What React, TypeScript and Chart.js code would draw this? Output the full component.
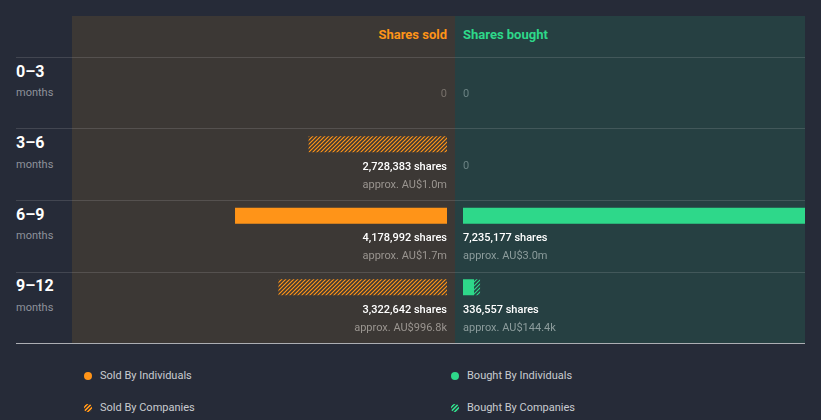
import React, { useEffect, useRef } from 'react';
import { Chart, registerables } from 'chart.js';

Chart.register(...registerables);

// ---- data ----
const periods = ['0–3', '3–6', '6–9', '9–12'];
const periodUnit = 'months';
const soldByIndividuals = [0, 0, 4178992, 0];
const soldByCompanies = [0, 2728383, 0, 3322642];
const boughtByIndividuals = [0, 0, 7235177, 218000];
const boughtByCompanies = [0, 0, 0, 118557];
const soldApproxValue = ['', 'AU$1.0m', 'AU$1.7m', 'AU$996.8k'];
const boughtApproxValue = ['', '', 'AU$3.0m', 'AU$144.4k'];
const legendSold = ['Sold By Individuals', 'Sold By Companies'];
const legendBought = ['Bought By Individuals', 'Bought By Companies'];

// ---- styles ----
const BG = '#262b38';
const SOLD_BG = '#3c3835';
const BOUGHT_BG = '#264042';
const ORANGE = '#ff9418';
const GREEN = '#2ed88a';
const FONT = 'Roboto, "Noto Sans", sans-serif';

const soldTotals = soldByIndividuals.map((v, i) => v + soldByCompanies[i]);
const boughtTotals = boughtByIndividuals.map((v, i) => v + boughtByCompanies[i]);
const maxTotal = Math.max(...soldTotals, ...boughtTotals);

function makeHatch(color: string): CanvasPattern | string {
  const c = document.createElement('canvas');
  c.width = 4;
  c.height = 4;
  const g = c.getContext('2d');
  if (!g) return color;
  g.strokeStyle = color;
  g.lineWidth = 1.2;
  g.beginPath();
  g.moveTo(0, 4);
  g.lineTo(4, 0);
  g.moveTo(-1, 1);
  g.lineTo(1, -1);
  g.moveTo(3, 5);
  g.lineTo(5, 3);
  g.stroke();
  const p = g.createPattern(c, 'repeat');
  return p || color;
}

type PanelProps = {
  individuals: number[];
  companies: number[];
  totals: number[];
  approx: string[];
  color: string;
  reverse: boolean;
  zeroColor: string;
  subColor: string;
};

function Panel({ individuals, companies, totals, approx, color, reverse, zeroColor, subColor }: PanelProps) {
  const ref = useRef<HTMLCanvasElement | null>(null);
  useEffect(() => {
    if (!ref.current) return;
    const align: CanvasTextAlign = reverse ? 'right' : 'left';
    const labelPlugin = {
      id: 'rowLabels',
      afterDatasetsDraw(chart: any) {
        const { ctx } = chart;
        const xs = chart.scales.x;
        const ys = chart.scales.y;
        const x0 = xs.getPixelForValue(0);
        ctx.save();
        ctx.textAlign = align;
        ctx.textBaseline = 'middle';
        totals.forEach((t, i) => {
          const cy = ys.getPixelForValue(i);
          if (!t) {
            ctx.font = `400 11px ${FONT}`;
            ctx.fillStyle = zeroColor;
            ctx.fillText('0', x0, cy + 21.5);
            return;
          }
          ctx.font = `500 11px ${FONT}`;
          ctx.fillStyle = '#ffffff';
          ctx.fillText(`${t.toLocaleString('en-US')} shares`, x0, cy + 22.5);
          ctx.font = `400 11px ${FONT}`;
          ctx.fillStyle = subColor;
          ctx.fillText(`approx. ${approx[i]}`, x0, cy + 40.5);
        });
        ctx.restore();
      },
    };
    const chart = new Chart(ref.current, {
      type: 'bar',
      data: {
        labels: periods,
        datasets: [
          {
            label: 'Individuals',
            data: individuals,
            backgroundColor: color,
            barThickness: 16,
            borderWidth: 0,
            inflateAmount: 0,
          },
          {
            label: 'Companies',
            data: companies,
            backgroundColor: makeHatch(color) as any,
            barThickness: 16,
            borderWidth: 0,
            inflateAmount: 0,
          },
        ],
      },
      options: {
        indexAxis: 'y',
        animation: false,
        responsive: true,
        maintainAspectRatio: false,
        layout: { padding: { left: 8, right: 8, top: 0, bottom: 24 } },
        plugins: { legend: { display: false }, tooltip: { enabled: false } },
        scales: {
          x: { display: false, stacked: true, min: 0, max: maxTotal, reverse },
          y: { display: false, stacked: true, offset: true },
        },
      },
      plugins: [labelPlugin],
    });
    return () => chart.destroy();
  }, []);
  return (
    <div style={{ position: 'absolute', left: 0, top: 0, width: 383, height: 310 }}>
      <canvas ref={ref} />
    </div>
  );
}

const ROW_TOP = 57;
const ROW_H = 71.5;
const ROW_LINES = [57, 128, 200, 272];

export default function App() {
  const abs = (o: React.CSSProperties): React.CSSProperties => ({ position: 'absolute', ...o });
  const textLine = (center: number): React.CSSProperties => ({
    top: center - 8,
    height: 16,
    lineHeight: '16px',
    whiteSpace: 'nowrap',
  });
  return (
    <div style={abs({ left: 0, top: 0, width: 821, height: 420, background: BG, fontFamily: FONT, overflow: 'hidden' })}>
      <div style={abs({ left: 72, top: 16, width: 383, height: 327, background: SOLD_BG })} />
      <div style={abs({ left: 455, top: 16, width: 350, height: 327, background: BOUGHT_BG })} />
      <div style={abs({ left: 72, width: 375, textAlign: 'right', color: ORANGE, fontWeight: 700, fontSize: 13, ...textLine(34.5) })}>
        Shares sold
      </div>
      <div style={abs({ left: 463, color: GREEN, fontWeight: 700, fontSize: 13, ...textLine(34.5) })}>Shares bought</div>
      {ROW_LINES.map((y) => (
        <div key={'l' + y} style={abs({ left: 16, width: 789, top: y, height: 1, background: 'rgba(255,255,255,0.13)' })} />
      ))}
      <div style={abs({ left: 16, width: 789, top: 343, height: 1, background: 'rgba(255,255,255,0.62)' })} />
      {periods.map((p, i) => {
        const top = ROW_TOP + i * ROW_H;
        return (
          <React.Fragment key={p}>
            <div style={abs({ left: 16, color: '#ffffff', fontWeight: 700, fontSize: 16, ...textLine(top + 14.5) })}>{p}</div>
            <div style={abs({ left: 16, color: '#8e929b', fontSize: 11, ...textLine(top + 36) })}>{periodUnit}</div>
          </React.Fragment>
        );
      })}
      <div style={abs({ left: 72, top: 37, width: 383, height: 310 })}>
        <Panel
          individuals={soldByIndividuals}
          companies={soldByCompanies}
          totals={soldTotals}
          approx={soldApproxValue}
          color={ORANGE}
          reverse={true}
          zeroColor="#77716b"
          subColor="#9a9590"
        />
      </div>
      <div style={abs({ left: 455, top: 37, width: 350, height: 310, overflow: 'hidden' })}>
        <Panel
          individuals={boughtByIndividuals}
          companies={boughtByCompanies}
          totals={boughtTotals}
          approx={boughtApproxValue}
          color={GREEN}
          reverse={false}
          zeroColor="#6b8283"
          subColor="#8c9c9c"
        />
      </div>
      {[0, 1].map((k) => {
        const cy = 375.5 + k * 32;
        const hatch = k === 1;
        const dot: React.CSSProperties = { width: 8, height: 8, borderRadius: '50%', top: cy - 4 };
        return (
          <React.Fragment key={'lg' + k}>
            <div style={abs({ left: 84, ...dot, background: hatch ? `repeating-linear-gradient(-45deg, ${ORANGE} 0 1.4px, #4a3e33 1.4px 2.8px)` : ORANGE })} />
            <div style={abs({ left: 100, color: '#c9cbd0', fontSize: 11, ...textLine(cy) })}>{legendSold[k]}</div>
            <div style={abs({ left: 451, ...dot, background: hatch ? `repeating-linear-gradient(-45deg, ${GREEN} 0 1.4px, #2d4a45 1.4px 2.8px)` : GREEN })} />
            <div style={abs({ left: 467, color: '#c9cbd0', fontSize: 11, ...textLine(cy) })}>{legendBought[k]}</div>
          </React.Fragment>
        );
      })}
    </div>
  );
}
